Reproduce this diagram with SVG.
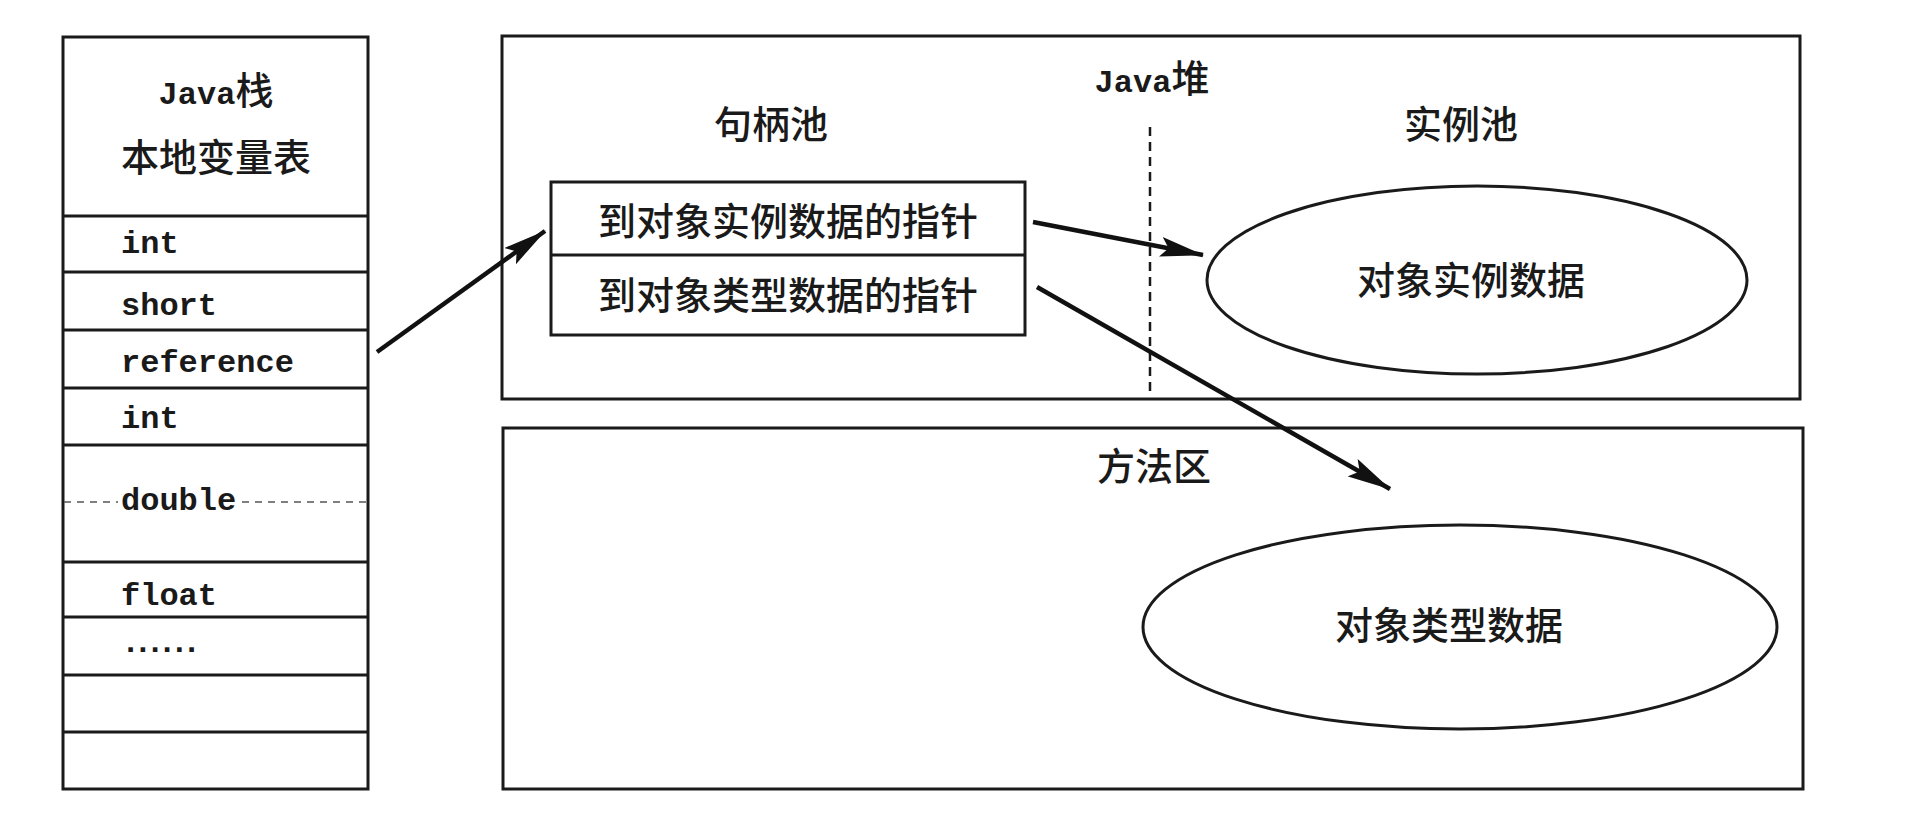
<svg xmlns="http://www.w3.org/2000/svg" width="1916" height="834" viewBox="0 0 1916 834">
<style>
.box{fill:none;stroke:#1a1a1a;stroke-width:3}
.cell{fill:none;stroke:#1a1a1a;stroke-width:3}
.cjk{font-family:"Noto Sans CJK SC","Noto Sans",sans-serif;font-size:38px;font-weight:500;fill:#1a1a1a}
.mono{font-family:"Liberation Mono","DejaVu Sans Mono",monospace;font-size:32px;font-weight:bold;fill:#1a1a1a}
.mix{font-family:"Liberation Mono","Noto Sans CJK SC",monospace;font-size:32px;font-weight:bold;fill:#1a1a1a}
.mix .c{font-family:"Noto Sans CJK SC",sans-serif;font-size:38px;font-weight:500}
.dash{stroke:#555;stroke-width:1.5;stroke-dasharray:7 6;fill:none}
.vdash{stroke:#1a1a1a;stroke-width:2.5;stroke-dasharray:9 6;fill:none}
.conn{stroke:#111;stroke-width:4.5;fill:none;marker-end:url(#arr)}
</style>
<defs>
<marker id="arr" markerUnits="userSpaceOnUse" viewBox="0 0 44 20" refX="43" refY="10" markerWidth="44" markerHeight="20" orient="auto">
<path d="M0,0 L44,10 L0,20 L8,10 z" fill="#111"/>
</marker>
</defs>
<rect width="1916" height="834" fill="#ffffff"/>

<g id="java-stack">
<rect class="box" x="63" y="37" width="305" height="752"/>
<line class="cell" x1="63" y1="216" x2="368" y2="216"/>
<line class="cell" x1="63" y1="272" x2="368" y2="272"/>
<line class="cell" x1="63" y1="330" x2="368" y2="330"/>
<line class="cell" x1="63" y1="388" x2="368" y2="388"/>
<line class="cell" x1="63" y1="445" x2="368" y2="445"/>
<line class="cell" x1="63" y1="562" x2="368" y2="562"/>
<line class="cell" x1="63" y1="617" x2="368" y2="617"/>
<line class="cell" x1="63" y1="675" x2="368" y2="675"/>
<line class="cell" x1="63" y1="732" x2="368" y2="732"/>
<line class="dash" x1="64" y1="502" x2="118" y2="502"/>
<line class="dash" x1="242" y1="502" x2="367" y2="502"/>
<text class="mix" x="216" y="104" text-anchor="middle">Java<tspan class="c">栈</tspan></text>
<text class="cjk" x="216" y="171" text-anchor="middle">本地变量表</text>
<text class="mono" x="121" y="253">int</text>
<text class="mono" x="121" y="315">short</text>
<text class="mono" x="121" y="372">reference</text>
<text class="mono" x="121" y="428">int</text>
<text class="mono" x="121" y="510">double</text>
<text class="mono" x="121" y="605">float</text>
<text class="mono" x="121" y="652" letter-spacing="-7">......</text>
</g>

<g id="java-heap">
<rect class="box" x="502" y="36" width="1298" height="363"/>
<text class="mix" x="1152" y="92" text-anchor="middle">Java<tspan class="c">堆</tspan></text>
<line class="vdash" x1="1150" y1="127" x2="1150" y2="392"/>
<text class="cjk" x="771" y="138" text-anchor="middle">句柄池</text>
<text class="cjk" x="1461" y="138" text-anchor="middle">实例池</text>
</g>

<g id="handle">
<rect class="box" x="551" y="182" width="474" height="153"/>
<line class="cell" x1="551" y1="255" x2="1025" y2="255"/>
<text class="cjk" x="788" y="235" text-anchor="middle" font-size="39">到对象实例数据的指针</text>
<text class="cjk" x="788" y="309" text-anchor="middle" font-size="39">到对象类型数据的指针</text>
</g>

<g id="instance-data">
<ellipse class="box" cx="1477" cy="280" rx="270" ry="94"/>
<text class="cjk" x="1471" y="294" text-anchor="middle">对象实例数据</text>
</g>

<g id="method-area">
<rect class="box" x="503" y="428" width="1300" height="361"/>
<text class="cjk" x="1154" y="480" text-anchor="middle">方法区</text>
</g>

<g id="type-data">
<ellipse class="box" cx="1460" cy="627" rx="317" ry="102"/>
<text class="cjk" x="1449" y="639" text-anchor="middle">对象类型数据</text>
</g>

<g id="connectors">
<path class="conn" d="M377,352 L545,231"/>
<path class="conn" d="M1033,222 L1203,255"/>
<path class="conn" d="M1037,287 L1390,489"/>
</g>
</svg>
